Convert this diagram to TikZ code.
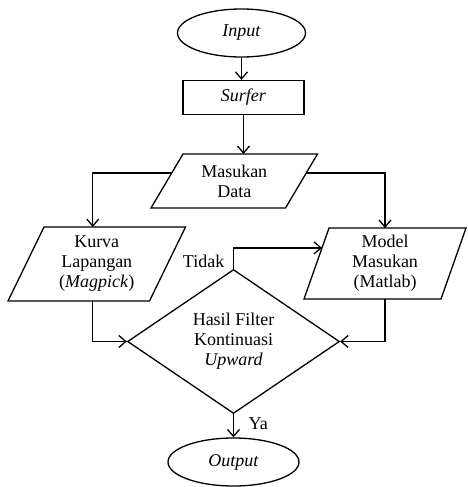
\documentclass[tikz,border=0pt]{standalone}
\usepackage{fontspec}
\setmainfont{Liberation Serif}
\newfontfamily\diagfont{Liberation Serif}
\usetikzlibrary{shapes.geometric,arrows.meta,calc}
\begin{document}
\begin{tikzpicture}[x=1pt,y=-1pt,
  txt/.style={align=center,inner sep=0pt,font=\diagfont\fontsize{18}{20}\selectfont},
  base/.style={txt,draw,line width=1.3pt},
  term/.style={base,ellipse},
  procbox/.style={base,rectangle},
  iobox/.style={txt,outer sep=0pt},
  decision/.style={base,diamond,aspect=1.47},
  plain/.style={line width=1.3pt,line join=miter},
  conn/.style={line width=1.3pt,-{Straight Barb[length=7pt,width=12pt,line width=1.3pt]}},
  lbl/.style={txt}
]
\useasboundingbox (0,0) rectangle (468,487);

% nodes
\node[term,minimum width=128pt,minimum height=48pt] (in) at (241.5,33) {\textit{Input}};
\node[procbox,minimum width=121pt,minimum height=34pt] (surf) at (243.5,97.5) {\textit{Surfer}};
\node[iobox,minimum width=134.5pt,minimum height=54pt] (md) at (234.25,181) {Masukan\\Data};
\node[iobox,minimum width=141.5pt,minimum height=74pt] (ku) at (96.75,264) {Kurva\\Lapangan\\(\textit{Magpick})};
\node[iobox,minimum width=137pt,minimum height=71pt] (mo) at (385,263.5) {Model\\Masukan\\(Matlab)};
\node[decision,minimum width=212pt,minimum height=144pt] (dia) at (233.5,341.5) {Hasil Filter\\Kontinuasi\\\textit{Upward}};
\node[term,minimum width=131pt,minimum height=48pt] (out) at (233.5,462) {\textit{Output}};

% parallelogram outlines
\draw[plain] ([xshift=16pt]md.north west) -- ([xshift=16pt]md.north east) -- ([xshift=-16pt]md.south east) -- ([xshift=-16pt]md.south west) -- cycle;
\draw[plain] ([xshift=18pt]ku.north west) -- ([xshift=18pt]ku.north east) -- ([xshift=-18pt]ku.south east) -- ([xshift=-18pt]ku.south west) -- cycle;
\draw[plain] ([xshift=12.5pt]mo.north west) -- ([xshift=12.5pt]mo.north east) -- ([xshift=-12.5pt]mo.south east) -- ([xshift=-12.5pt]mo.south west) -- cycle;

% connector end points on slanted sides
\coordinate (mdL) at ($([xshift=16pt]md.north west)!0.352!([xshift=-16pt]md.south west)$);
\coordinate (mdR) at ($([xshift=16pt]md.north east)!0.352!([xshift=-16pt]md.south east)$);
\coordinate (moL) at ($([xshift=12.5pt]mo.north west)!0.28!([xshift=-12.5pt]mo.south west)$);

% connectors
\draw[conn] (in.south) -- (in.south |- surf.north);
\draw[conn] (surf.south) -- (surf.south |- md.north);
\draw[conn] (mdL) -| ([xshift=-4pt]ku.north);
\draw[conn] (mdR) -| (mo.north);
\draw[conn] ([xshift=-4pt]ku.south) |- (dia.west);
\draw[conn] (mo.south) |- (dia.east);
\draw[conn] (dia.north) |- (moL);
\draw[conn] (dia.south) -- (dia.south |- out.north);

% labels
\node[lbl,anchor=east] (tidak) at ([xshift=-9pt,yshift=8pt]dia.north) {Tidak};
\node[lbl,anchor=west] (ya) at ([xshift=15pt,yshift=-9.5pt]dia.south) {Ya};
\end{tikzpicture}
\end{document}
